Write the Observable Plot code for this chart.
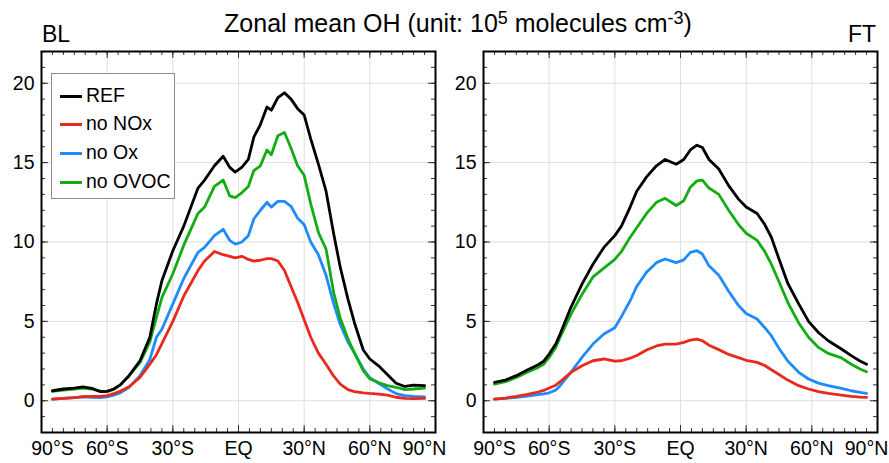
<!DOCTYPE html>
<html><head><meta charset="utf-8">
<script src="https://cdn.jsdelivr.net/npm/d3@7"></script>
<script src="https://cdn.jsdelivr.net/npm/@observablehq/plot@0.6"></script>
<style>
body{margin:0;background:#fff;font-family:"Liberation Sans",Arial,sans-serif;}
#wrap{position:relative;width:889px;height:463px;overflow:hidden;background:#fff}
#wrap svg{position:absolute;top:0}
.ttl{position:absolute;white-space:nowrap;color:#000}
.ttl sup{font-size:0.72em;vertical-align:0.45em;line-height:0}
.leg{position:absolute;border:1px solid #8c8c8c;background:#fff;box-sizing:border-box}
.sw{position:absolute;height:3px}
.lt{position:absolute;font-size:19.5px;line-height:19.5px;white-space:nowrap;color:#000}
</style></head><body><div id="wrap"></div>
<script>
// ---- data ----
const seriesNames = ["REF", "no NOx", "no Ox", "no OVOC"];
const seriesColors = ["#000000", "#e8291c", "#1e8cff", "#13ad13"];
const drawOrder = ["no Ox", "no OVOC", "no NOx", "REF"];
const panelNames = ["BL", "FT"];

const xTicks = [-85, -60, -30, 0, 30, 60, 85];
const xTickLabels = ["90°S", "60°S", "30°S", "EQ", "30°N", "60°N", "90°N"];
const yTicks = [0, 5, 10, 15, 20];

const latBL = [-85,-80,-75,-71,-67,-63,-60,-57,-54,-50,-45,-40.5,-37.5,-35,-30,-25,-18.5,-15.5,-11,-7,-4,-1.5,1.5,4.5,7,10,13,15,18,21,24,27,30,33,36.5,40,43.5,46.5,50,53,57,60,64,68,72,76,80,85];
const refBL = [0.63,0.74,0.8,0.88,0.78,0.57,0.59,0.74,1.0,1.58,2.52,4.0,6.1,7.56,9.45,11.0,13.4,13.9,14.8,15.4,14.7,14.4,14.7,15.2,16.6,17.4,18.5,18.3,19.1,19.4,19.0,18.4,18.0,16.5,14.9,13.2,10.5,8.4,6.4,4.9,3.2,2.63,2.2,1.65,1.1,0.9,0.98,0.95];
const noNOxBL = [0.1,0.15,0.2,0.26,0.27,0.28,0.32,0.45,0.6,0.88,1.47,2.3,2.9,3.6,5.0,6.6,8.2,8.8,9.4,9.2,9.1,9.0,9.1,8.9,8.8,8.85,8.95,8.95,8.8,8.2,7.2,6.2,5.1,4.0,3.0,2.3,1.55,1.05,0.7,0.57,0.5,0.46,0.42,0.35,0.22,0.15,0.14,0.15];
const noOxBL = [0.1,0.15,0.2,0.25,0.22,0.2,0.25,0.35,0.5,0.84,1.58,2.6,4.0,4.5,6.1,7.7,9.35,9.66,10.4,10.8,10.1,9.87,10.0,10.4,11.45,12.0,12.5,12.2,12.56,12.56,12.25,11.5,11.1,10.0,9.2,7.9,6.1,4.8,3.7,3.0,2.0,1.45,1.1,0.75,0.45,0.32,0.27,0.25];
const noOVOCBL = [0.59,0.67,0.74,0.8,0.74,0.6,0.59,0.72,1.0,1.58,2.4,3.7,5.25,6.5,8.0,9.8,11.8,12.2,13.5,13.9,12.9,12.8,13.1,13.5,14.5,14.8,15.8,15.5,16.7,16.9,15.9,14.8,14.2,12.4,10.6,9.55,6.8,5.2,3.9,3.0,1.9,1.37,1.15,0.95,0.85,0.7,0.74,0.8];

const latFT = [-85,-80,-75,-70,-65,-62.5,-60,-57,-55,-50,-45,-40,-35,-30,-27,-23,-20,-15.5,-11,-7,-2,1.5,4.5,7.5,10,13,17.5,22,26.5,30,35,38.5,41.5,45,49,54,58.5,63,67.5,73.5,78,82,85];
const refFT = [1.16,1.3,1.58,1.93,2.27,2.5,2.94,3.57,4.2,5.9,7.35,8.6,9.66,10.4,11.0,12.2,13.2,14.1,14.8,15.2,14.9,15.2,15.8,16.1,15.95,15.2,14.6,13.55,12.7,12.2,11.8,11.1,10.3,8.93,7.4,6.1,5.0,4.3,3.78,3.26,2.84,2.5,2.3];
const noNOxFT = [0.1,0.17,0.27,0.4,0.55,0.65,0.8,0.98,1.2,1.79,2.2,2.52,2.63,2.5,2.52,2.68,2.85,3.2,3.45,3.57,3.57,3.68,3.82,3.88,3.78,3.5,3.22,2.92,2.72,2.55,2.42,2.22,1.95,1.65,1.3,0.95,0.74,0.57,0.46,0.36,0.27,0.23,0.21];
const noOxFT = [0.1,0.15,0.21,0.3,0.38,0.43,0.5,0.67,0.95,1.8,2.73,3.57,4.2,4.6,5.3,6.3,7.2,8.1,8.7,8.93,8.7,8.87,9.35,9.45,9.24,8.5,7.9,6.9,6.0,5.5,5.15,4.6,4.1,3.3,2.5,1.79,1.37,1.11,0.95,0.78,0.63,0.53,0.46];
const noOVOCFT = [1.05,1.2,1.47,1.79,2.1,2.3,2.73,3.36,4.0,5.46,6.7,7.8,8.35,8.9,9.4,10.3,10.9,11.8,12.5,12.75,12.3,12.6,13.45,13.85,13.9,13.4,13.0,12.0,11.1,10.55,10.1,9.4,8.6,7.5,6.2,4.9,4.0,3.36,2.98,2.7,2.3,2.0,1.83];

// ---- build ----
const wrap = document.getElementById("wrap");
const H = 463, MT = 51, MB = 31, FH = H - MT - MB;
const xMajor = [-60, -30, 0, 30, 60];
const xMinor = d3.range(-85, 86, 5);
const yMinor = d3.range(-2, 23, 1);
const labelMap = new Map(xTicks.map((d, i) => [d, xTickLabels[i]]));

function rowsFor(lat, arrays) {
  const byName = new Map(seriesNames.map((n, i) => [n, arrays[i]]));
  const rows = [];
  for (const name of drawOrder) {
    byName.get(name).forEach((v, j) => rows.push({lat: lat[j], v, name}));
  }
  return rows;
}

function panel(rows, W, ML, MR) {
  const fw = W - ML - MR;
  const tickCol = "#333";
  return Plot.plot({
    width: W, height: H, marginTop: MT, marginBottom: MB, marginLeft: ML, marginRight: MR,
    x: {domain: [-90, 90], label: null},
    y: {domain: [-2, 22], label: null},
    color: {domain: seriesNames, range: seriesColors},
    style: {fontFamily: "'Liberation Sans', Arial, sans-serif", fontSize: "19.5px", color: "#000", background: "transparent", overflow: "visible"},
    marks: [
      Plot.gridX(xMajor, {stroke: "#dedede", strokeOpacity: 1, strokeWidth: 1}),
      Plot.gridY(yTicks, {stroke: "#dedede", strokeOpacity: 1, strokeWidth: 1}),
      Plot.tickX(xMinor, {x: d => d, insetTop: FH - 4, stroke: tickCol}),
      Plot.tickX(xMinor, {x: d => d, insetBottom: FH - 4, stroke: tickCol}),
      Plot.tickX(xMajor, {x: d => d, insetTop: FH - 7, stroke: tickCol}),
      Plot.tickX(xMajor, {x: d => d, insetBottom: FH - 7, stroke: tickCol}),
      Plot.tickY(yMinor, {y: d => d, insetRight: fw - 4, stroke: tickCol}),
      Plot.tickY(yMinor, {y: d => d, insetLeft: fw - 4, stroke: tickCol}),
      Plot.tickY(yTicks, {y: d => d, insetRight: fw - 7, stroke: tickCol}),
      Plot.tickY(yTicks, {y: d => d, insetLeft: fw - 7, stroke: tickCol}),
      Plot.line(rows, {x: "lat", y: "v", z: "name", stroke: "name", strokeWidth: 2.8, strokeLinejoin: "round", curve: "linear"}),
      Plot.frame({stroke: "#000", strokeWidth: 2}),
      Plot.axisX(xTicks, {tickSize: 0, tickPadding: 9, tickFormat: d => labelMap.get(d), fontSize: 19.5, label: null}),
      Plot.axisY(yTicks, {tickSize: 0, tickPadding: 7, fontSize: 19.5, label: null})
    ]
  });
}

const svgL = panel(rowsFor(latBL, [refBL, noNOxBL, noOxBL, noOVOCBL]), 445, 41, 10);
svgL.style.left = "0px";
wrap.appendChild(svgL);
const svgR = panel(rowsFor(latFT, [refFT, noNOxFT, noOxFT, noOVOCFT]), 445, 39, 12);
svgR.style.left = "444px";
wrap.appendChild(svgR);

// titles
const t = document.createElement("div");
t.className = "ttl";
t.style.cssText = "left:458px;top:11px;font-size:25px;line-height:25px;transform:translateX(-50%)";
t.innerHTML = "Zonal mean OH (unit: 10<sup>5</sup> molecules cm<sup>-3</sup>)";
wrap.appendChild(t);
const bl = document.createElement("div");
bl.className = "ttl";
bl.style.cssText = "left:42px;top:23px;font-size:23px;line-height:23px";
bl.textContent = panelNames[0];
wrap.appendChild(bl);
const ft = document.createElement("div");
ft.className = "ttl";
ft.style.cssText = "right:13px;top:23px;font-size:23px;line-height:23px";
ft.textContent = panelNames[1];
wrap.appendChild(ft);

// legend
const leg = document.createElement("div");
leg.className = "leg";
leg.style.cssText = "left:51px;top:73px;width:124px;height:126px";
wrap.appendChild(leg);
const rowY = [22, 50, 79, 108];
seriesNames.forEach((n, i) => {
  const s = document.createElement("div");
  s.className = "sw";
  s.style.cssText = `left:8px;top:${rowY[i] - 1.5}px;width:22px;background:${seriesColors[i]}`;
  leg.appendChild(s);
  const l = document.createElement("div");
  l.className = "lt";
  l.style.cssText = `left:34px;top:${rowY[i] - 9.8}px`;
  l.textContent = n;
  leg.appendChild(l);
});
</script></body></html>
